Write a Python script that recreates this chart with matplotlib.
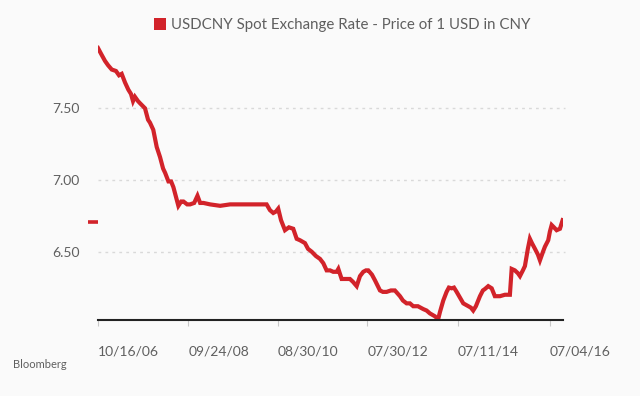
import matplotlib
matplotlib.use("Agg")
import matplotlib.pyplot as plt
from matplotlib.patches import Patch
from matplotlib.transforms import blended_transform_factory
import pandas as pd

# ---- data ----
dates = [
    "2006-10-16", "2006-11-09", "2006-12-10", "2007-01-03", "2007-02-01", "2007-03-06",
    "2007-03-30", "2007-04-20", "2007-05-16", "2007-06-11", "2007-07-02", "2007-07-18",
    "2007-08-02", "2007-08-26", "2007-09-11", "2007-10-20", "2007-11-13", "2007-11-28",
    "2007-12-24", "2008-01-20", "2008-02-15", "2008-03-10", "2008-03-26", "2008-04-21",
    "2008-05-12", "2008-05-30", "2008-06-20", "2008-07-08", "2008-07-30", "2008-08-17",
    "2008-09-15", "2008-10-08", "2008-11-09", "2008-12-05", "2008-12-26", "2009-01-21",
    "2009-03-14", "2009-06-01", "2009-08-18", "2009-11-04", "2010-01-21", "2010-04-10",
    "2010-06-01", "2010-06-27", "2010-07-23", "2010-08-13", "2010-08-31", "2010-09-22",
    "2010-10-23", "2010-11-23", "2010-12-27", "2011-01-23", "2011-02-18", "2011-03-29",
    "2011-04-22", "2011-05-21", "2011-06-23", "2011-07-25", "2011-08-20", "2011-09-15",
    "2011-10-12", "2011-11-06", "2011-12-03", "2011-12-16", "2012-01-11", "2012-02-07",
    "2012-03-16", "2012-04-09", "2012-05-08", "2012-06-03", "2012-06-29", "2012-07-20",
    "2012-08-07", "2012-09-05", "2012-09-29", "2012-11-07", "2012-11-30", "2012-12-29",
    "2013-02-01", "2013-03-04", "2013-04-13", "2013-05-06", "2013-06-04", "2013-06-30",
    "2013-07-26", "2013-09-01", "2013-10-13", "2013-11-08", "2013-12-04", "2014-01-12",
    "2014-02-07", "2014-02-21", "2014-03-19", "2014-04-14", "2014-05-02", "2014-05-24",
    "2014-06-11", "2014-07-02", "2014-07-28", "2014-08-23", "2014-10-01", "2014-10-22",
    "2014-11-09", "2014-11-30", "2015-01-01", "2015-01-24", "2015-02-09", "2015-03-07",
    "2015-04-03", "2015-04-28", "2015-06-07", "2015-07-16", "2015-08-24", "2015-09-07",
    "2015-10-02", "2015-10-26", "2015-11-11", "2015-12-04", "2015-12-20", "2016-01-12",
    "2016-01-28", "2016-02-13", "2016-03-08", "2016-03-31", "2016-04-16", "2016-05-10",
    "2016-05-25", "2016-06-20", "2016-07-03", "2016-07-17", "2016-08-04", "2016-08-25",
    "2016-09-20", "2016-10-11",
]
usdcny = [
    7.92, 7.88, 7.83, 7.80, 7.77, 7.76,
    7.73, 7.74, 7.68, 7.63, 7.60, 7.55,
    7.58, 7.55, 7.535, 7.50, 7.42, 7.40,
    7.35, 7.23, 7.16, 7.08, 7.05, 6.99,
    6.99, 6.95, 6.88, 6.82, 6.85, 6.85,
    6.83, 6.83, 6.84, 6.89, 6.84, 6.84,
    6.83, 6.82, 6.83, 6.83, 6.83, 6.83,
    6.83, 6.79, 6.77, 6.78, 6.80, 6.72,
    6.65, 6.67, 6.66, 6.59, 6.58, 6.56,
    6.52, 6.50, 6.47, 6.45, 6.42, 6.37,
    6.37, 6.36, 6.36, 6.38, 6.31, 6.31,
    6.31, 6.29, 6.26, 6.33, 6.36, 6.37,
    6.37, 6.34, 6.30, 6.23, 6.22, 6.22,
    6.23, 6.23, 6.19, 6.16, 6.14, 6.14,
    6.12, 6.12, 6.10, 6.09, 6.07, 6.05,
    6.03, 6.08, 6.16, 6.22, 6.25, 6.245,
    6.25, 6.22, 6.18, 6.14, 6.12, 6.11,
    6.09, 6.12, 6.19, 6.23, 6.24, 6.26,
    6.245, 6.19, 6.19, 6.20, 6.20, 6.38,
    6.37, 6.35, 6.33, 6.37, 6.40, 6.52,
    6.59, 6.56, 6.52, 6.48, 6.44, 6.50,
    6.535, 6.58, 6.64, 6.686, 6.67, 6.65,
    6.66, 6.72,
]
xtick_dates = ["2006-10-16", "2008-09-24", "2010-08-30", "2012-07-30", "2014-07-11", "2016-07-04"]
xtick_labels = ["10/16/06", "09/24/08", "08/30/10", "07/30/12", "07/11/14", "07/04/16"]
ytick_values = [6.50, 7.00, 7.50]
ytick_labels = ["6.50", "7.00", "7.50"]
series_name = "USDCNY Spot Exchange Rate - Price of 1 USD in CNY"
source = "Bloomberg"

RED = "#d2232a"
BG = "#fafafa"
TXT = "#5f5f5f"
FONT = ["Lato", "DejaVu Sans"]

plt.rcParams["font.family"] = FONT

x = pd.to_datetime(dates)
fig = plt.figure(figsize=(6.4, 3.96), dpi=100, facecolor=BG)
ax = fig.add_axes([98 / 640, 1 - 320 / 396, (563 - 98) / 640, (320 - 40) / 396])
ax.set_facecolor(BG)

ax.plot(x, usdcny, color=RED, lw=3.0, solid_joinstyle="miter")

ax.set_xlim(pd.Timestamp("2006-10-16"), pd.Timestamp("2016-10-14"))
ax.set_ylim(6.024, 7.976)

# grid
for v in ytick_values:
    ax.axhline(v, color="#d9d9d9", lw=1.0, ls=(0, (2, 3)), zorder=0, xmax=1.005, clip_on=False)

ax.set_yticks(ytick_values)
ax.set_yticklabels(ytick_labels)
ax.tick_params(axis="y", length=0, pad=13, labelsize=10, labelcolor=TXT)

ax.set_xticks(pd.to_datetime(xtick_dates))
ax.set_xticklabels(xtick_labels, ha="left")
ax.tick_params(axis="x", length=4, width=0.8, color="#c8c8c8", pad=14, labelsize=10, labelcolor=TXT)

for s in ["top", "right", "left"]:
    ax.spines[s].set_visible(False)
ax.spines["bottom"].set_color("#222222")
ax.spines["bottom"].set_linewidth(1.5)

# last value marker on the y-axis
tr = blended_transform_factory(ax.transAxes, ax.transData)
ax.plot([-0.0215, 0.0], [usdcny[-1] - 0.01, usdcny[-1] - 0.01], color=RED, lw=2.6,
        transform=tr, clip_on=False, solid_capstyle="butt")

# legend
fig.legend(handles=[Patch(facecolor=RED, edgecolor="none", label=series_name)],
           loc="center", bbox_to_anchor=(342 / 640, 1 - 25 / 396), frameon=False,
           handlelength=0.8, handleheight=0.8, handletextpad=0.35,
           prop={"family": FONT, "size": 10.8}, labelcolor=TXT)

fig.text(13 / 640, 1 - 364 / 396, source, fontsize=8, color=TXT, va="center", ha="left")

fig.savefig("out.png", dpi=100, facecolor=BG)
